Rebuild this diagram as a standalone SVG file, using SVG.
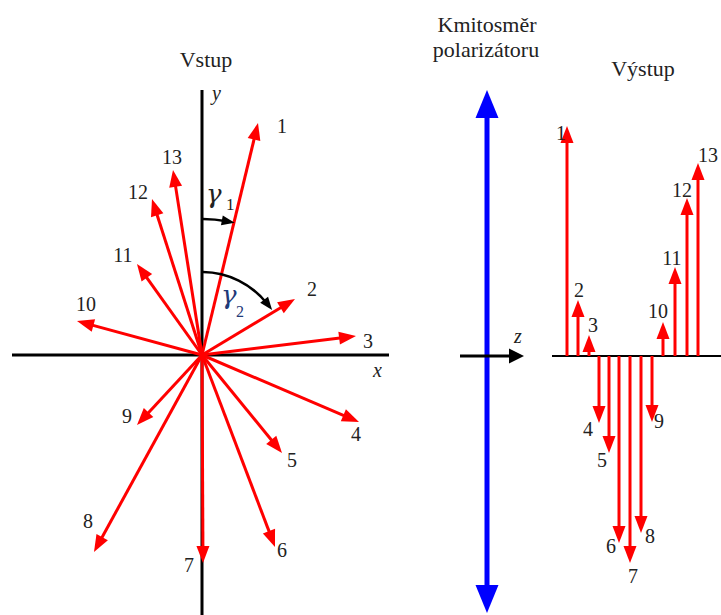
<svg xmlns="http://www.w3.org/2000/svg" width="721" height="615" viewBox="0 0 721 615">
<defs>
<marker id="ar" markerUnits="userSpaceOnUse" markerWidth="17" markerHeight="13" refX="7" refY="6.5" orient="auto" overflow="visible"><path d="M0,0 L17,6.5 L0,13 z" fill="#ff0000"/></marker>
<marker id="ab" markerUnits="userSpaceOnUse" markerWidth="13" markerHeight="10" refX="5" refY="5" orient="auto" overflow="visible"><path d="M0,0 L13,5 L0,10 z" fill="#000"/></marker>
<marker id="az" markerUnits="userSpaceOnUse" markerWidth="15" markerHeight="15" refX="5" refY="7.5" orient="auto" overflow="visible"><path d="M0,0 L15,7.5 L0,15 z" fill="#000"/></marker>
<marker id="abl" markerUnits="userSpaceOnUse" markerWidth="28" markerHeight="23" refX="10" refY="11.5" orient="auto" overflow="visible"><path d="M0,0 L28,11.5 L0,23 z" fill="#0000ff"/></marker>
</defs>
<style>
text{font-family:'Liberation Serif','Times New Roman',serif;fill:#222;}
.n{font-size:20px;text-anchor:middle;}
.h{font-size:22px;text-anchor:middle;}
.i{font-style:italic;font-size:20px;}
.g{font-family:'DejaVu Serif',serif;font-style:italic;font-size:26px;}
.ax{stroke:#000;stroke-width:3;fill:none;}
.r{stroke:#ff0000;stroke-width:3;fill:none;marker-end:url(#ar);}
.arc{stroke:#000;stroke-width:2.5;fill:none;marker-end:url(#ab);}
</style>
<rect width="721" height="615" fill="#fff"/>

<g id="axes-input">
<line class="ax" x1="12" y1="355" x2="389" y2="355"/>
<line class="ax" x1="202" y1="90" x2="202" y2="615"/>
<text class="i" x="373" y="377">x</text>
<text class="i" x="212" y="100">y</text>
</g>

<g id="connectors">
<g id="vectors-input">
<line class="r" x1="202" y1="355" x2="255.65" y2="132.72"/>
<line class="r" x1="202" y1="355" x2="286.43" y2="304.16"/>
<line class="r" x1="202" y1="355" x2="346.08" y2="337.22"/>
<line class="r" x1="202" y1="355" x2="349.80" y2="418.08"/>
<line class="r" x1="202" y1="355" x2="275.68" y2="445.25"/>
<line class="r" x1="202" y1="355" x2="271.45" y2="537.65"/>
<line class="r" x1="202" y1="355" x2="202.95" y2="553"/>
<line class="r" x1="202" y1="355" x2="98.81" y2="543.23"/>
<line class="r" x1="202" y1="355" x2="143.80" y2="417.67"/>
<line class="r" x1="202" y1="355" x2="86.65" y2="323.62"/>
<line class="r" x1="202" y1="355" x2="142.81" y2="272.14"/>
<line class="r" x1="202" y1="355" x2="155.05" y2="208.52"/>
<line class="r" x1="202" y1="355" x2="174.55" y2="179.88"/>
</g>
<g id="angles">
<path class="arc" d="M203,219 A136,136 0 0 1 226.8,221.3"/>
<path class="arc" d="M203,272 A83,83 0 0 1 267.2,303.7"/>
</g>
<g id="polarizer">
<line x1="487" y1="356" x2="487" y2="108" stroke="#0000ff" stroke-width="5" marker-end="url(#abl)"/>
<line x1="487" y1="356" x2="487" y2="595" stroke="#0000ff" stroke-width="5" marker-end="url(#abl)"/>
</g>
<g id="z-axis">
<line x1="460" y1="356" x2="514" y2="356" stroke="#000" stroke-width="3" marker-end="url(#az)"/>
</g>
<g id="vectors-output">
<line class="ax" x1="552" y1="356" x2="721" y2="356" style="stroke-width:2"/>
<line class="r" x1="567" y1="356" x2="567" y2="136"/>
<line class="r" x1="578" y1="356" x2="578" y2="310"/>
<line class="r" x1="589" y1="356" x2="589" y2="345"/>
<line class="r" x1="599" y1="356" x2="599" y2="413"/>
<line class="r" x1="609" y1="356" x2="609" y2="443"/>
<line class="r" x1="619" y1="356" x2="619" y2="533"/>
<line class="r" x1="630" y1="356" x2="630" y2="553"/>
<line class="r" x1="641" y1="356" x2="641" y2="523"/>
<line class="r" x1="652" y1="356" x2="652" y2="412"/>
<line class="r" x1="663" y1="356" x2="663" y2="332"/>
<line class="r" x1="675" y1="356" x2="675" y2="277"/>
<line class="r" x1="687" y1="356" x2="687" y2="208"/>
<line class="r" x1="698" y1="356" x2="698" y2="173"/>
</g>
</g>

<g id="titles">
<text class="h" x="206" y="67">Vstup</text>
<text class="h" x="487" y="32">Kmitosměr</text>
<text class="h" x="486" y="57">polarizátoru</text>
<text class="h" x="643" y="76">Výstup</text>
<text class="i" x="514" y="343">z</text>
</g>

<g id="angle-labels">
<text class="g" x="206" y="203">γ</text>
<text x="226" y="210" style="font-size:17px">1</text>
<text class="g" x="221" y="304" style="fill:#1f3a78">γ</text>
<text x="236" y="317" style="font-size:16px;fill:#1f3a78">2</text>
</g>

<g id="labels-input">
<text class="n" x="282" y="133">1</text>
<text class="n" x="312" y="296">2</text>
<text class="n" x="368" y="348">3</text>
<text class="n" x="356" y="441">4</text>
<text class="n" x="292" y="467">5</text>
<text class="n" x="282" y="557">6</text>
<text class="n" x="189" y="572">7</text>
<text class="n" x="88" y="528">8</text>
<text class="n" x="127" y="423">9</text>
<text class="n" x="86" y="311">10</text>
<text class="n" x="123" y="262">11</text>
<text class="n" x="138" y="199">12</text>
<text class="n" x="172" y="164">13</text>
</g>

<g id="labels-output">
<text class="n" x="561" y="140">1</text>
<text class="n" x="579" y="297">2</text>
<text class="n" x="593" y="332">3</text>
<text class="n" x="588" y="436">4</text>
<text class="n" x="602" y="467">5</text>
<text class="n" x="611" y="553">6</text>
<text class="n" x="633" y="583">7</text>
<text class="n" x="650" y="543">8</text>
<text class="n" x="659" y="428">9</text>
<text class="n" x="658" y="318">10</text>
<text class="n" x="672" y="265">11</text>
<text class="n" x="682" y="197">12</text>
<text class="n" x="708" y="162">13</text>
</g>
</svg>
